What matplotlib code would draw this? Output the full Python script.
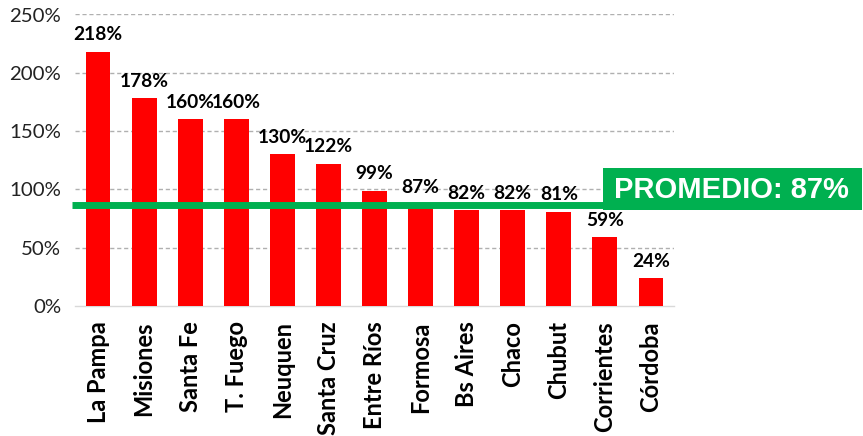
import matplotlib
matplotlib.use("Agg")
import matplotlib.pyplot as plt
from matplotlib.patches import Rectangle
from matplotlib.transforms import blended_transform_factory

provincias = ["La Pampa", "Misiones", "Santa Fe", "T. Fuego", "Neuquen", "Santa Cruz",
              "Entre Ríos", "Formosa", "Bs Aires", "Chaco", "Chubut", "Corrientes", "Córdoba"]
valores = [218, 178, 160, 160, 130, 122, 99, 87, 82, 82, 81, 59, 24]
promedio = 87
yticks = [0, 50, 100, 150, 200, 250]

W, H = 863, 436
fig = plt.figure(figsize=(W / 100, H / 100), dpi=100)
ax = fig.add_axes([75 / W, 1 - 306 / H, (674 - 75) / W, (306 - 14.5) / H])

font = "Lato"
x = list(range(len(provincias)))
ax.bar(x, valores, width=0.54, color="#FF0000", zorder=3)
ax.set_xlim(-0.5, len(provincias) - 0.5)
ax.set_ylim(0, 250)
ax.set_yticks(yticks)
ax.set_yticklabels([f"{v}%" for v in yticks], fontsize=14.7, family=font, color="#222222")
ax.set_xticks(x)
ax.set_xticklabels(provincias, rotation=90, fontsize=17, family=font, fontweight="bold")
ax.tick_params(axis="both", length=0)
ax.tick_params(axis="x", pad=11)
ax.tick_params(axis="y", pad=10)
for v in yticks[1:]:
    ax.axhline(v, color="#B0B0B0", linestyle=(0, (3, 2)), linewidth=1, zorder=1)
for s in ["top", "right", "left"]:
    ax.spines[s].set_visible(False)
ax.spines["bottom"].set_color("#D9D9D9")
ax.spines["bottom"].set_linewidth(1)

for xi, v in zip(x, valores):
    ax.annotate(f"{v}%", (xi, v), xytext=(0, 6), textcoords="offset points",
                ha="center", va="bottom", fontsize=13.8, fontweight="bold", family=font)

tr = blended_transform_factory(fig.transFigure, ax.transData)
ax.plot([72 / W, 604 / W], [promedio, promedio], transform=tr, color="#00B050",
        linewidth=5, solid_capstyle="butt", clip_on=False, zorder=5)
fig.patches.append(Rectangle((603 / W, 1 - 210 / H), (862 - 603) / W, (210 - 168) / H,
                             transform=fig.transFigure, facecolor="#00B050", edgecolor="none", zorder=5))
fig.text(731 / W, 1 - 189.5 / H, f"PROMEDIO: {promedio}%", ha="center", va="center",
         color="white", fontsize=21, fontweight="bold", family="Liberation Sans", zorder=6)

fig.savefig("out.png", dpi=100)
